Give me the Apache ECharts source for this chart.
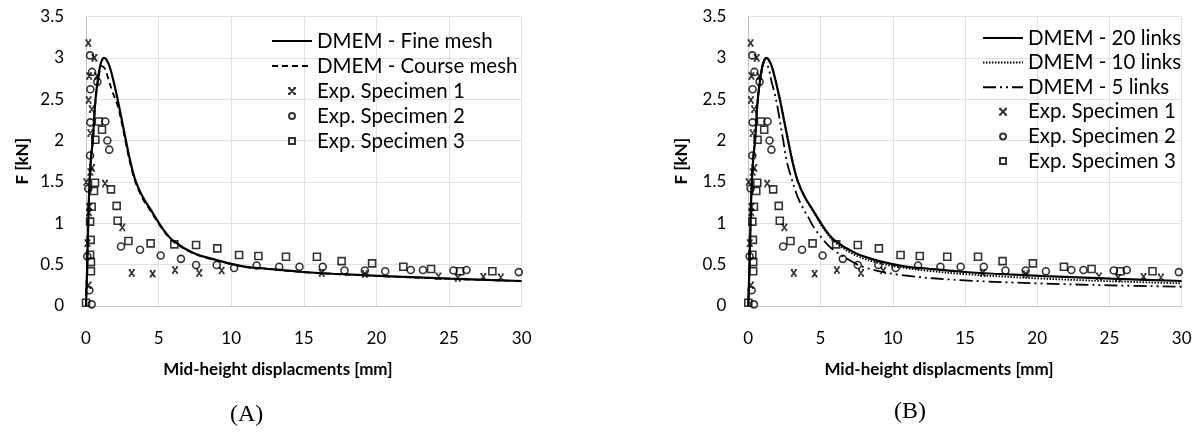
<!DOCTYPE html>
<html>
<head>
<meta charset="utf-8">
<script src="https://cdn.jsdelivr.net/npm/echarts@6/dist/echarts.min.js"></script>
<style>
html,body{margin:0;padding:0;background:#fff;}
#chart{width:1199px;height:435px;}
</style>
</head>
<body>
<div id="chart"></div>
<script>
// ---- data (x: mid-height displacement [mm], y: F [kN]) ----
const xTicks = [0, 5, 10, 15, 20, 25, 30];
const yTicks = [0, 0.5, 1, 1.5, 2, 2.5, 3, 3.5];

const fineMesh = [[0,0],[0.1,0.6],[0.22,1.4],[0.35,1.8],[0.47,2.0],[0.65,2.49],[0.88,2.81],[1.05,2.95],[1.25,3.0],[1.55,2.93],[1.85,2.75],[2.2,2.48],[2.5,2.22],[2.75,2.0],[3.05,1.75],[3.4,1.52],[3.9,1.32],[4.4,1.18],[5.3,0.93],[6.0,0.79],[7.4,0.64],[9,0.555],[10.8,0.48],[12.45,0.45],[14.74,0.414],[17,0.39],[20.5,0.362],[25.1,0.33],[30,0.302]];
const courseMesh = [[0,0],[0.1,0.6],[0.22,1.4],[0.35,1.8],[0.47,2.0],[0.65,2.47],[0.88,2.78],[1.1,2.9],[1.3,2.87],[1.5,2.77],[1.8,2.6],[2.2,2.41],[2.5,2.18],[2.75,1.96],[3.05,1.72],[3.4,1.5],[3.9,1.3],[4.4,1.16],[5.3,0.92],[6.0,0.78],[7.4,0.635],[9,0.55],[10.8,0.478],[12.45,0.448],[14.74,0.412],[17,0.388],[20.5,0.36],[25.1,0.328],[30,0.3]];
const links20 = [[0,0],[0.1,0.6],[0.22,1.4],[0.35,1.8],[0.47,2.0],[0.65,2.49],[0.88,2.81],[1.05,2.95],[1.25,3.0],[1.55,2.93],[1.85,2.75],[2.2,2.48],[2.5,2.22],[2.75,2.0],[3.05,1.75],[3.4,1.52],[3.9,1.32],[4.4,1.18],[5.3,0.93],[6.0,0.79],[7.4,0.64],[9,0.545],[10.8,0.48],[12.45,0.45],[14.74,0.414],[17,0.39],[20.5,0.362],[25.1,0.33],[30,0.302]];
const links10 = [[0,0],[0.1,0.6],[0.22,1.4],[0.35,1.8],[0.47,2.0],[0.65,2.48],[0.88,2.8],[1.05,2.94],[1.25,2.99],[1.55,2.93],[1.85,2.76],[2.2,2.5],[2.5,2.24],[2.75,2.02],[3.05,1.77],[3.4,1.53],[3.9,1.32],[4.4,1.17],[5.3,0.91],[6.0,0.77],[7.4,0.615],[9,0.52],[10.8,0.46],[12.45,0.425],[15,0.385],[20,0.334],[25,0.3],[30,0.274]];
const links5 = [[0,0],[0.1,0.6],[0.22,1.4],[0.35,1.8],[0.47,2.0],[0.65,2.47],[0.88,2.8],[1.1,2.94],[1.35,2.9],[1.6,2.72],[1.85,2.55],[2.05,2.38],[2.26,2.16],[2.42,2.0],[2.66,1.75],[3.0,1.54],[3.23,1.41],[3.46,1.3],[3.92,1.14],[4.2,1.06],[4.5,0.96],[5.19,0.8],[5.6,0.72],[6.0,0.665],[6.69,0.585],[8,0.47],[10.6,0.374],[15,0.31],[20,0.274],[25,0.25],[30,0.233]];

const spec1 = [[0.16,3.18],[0.58,3.0],[0.22,2.78],[0.76,2.78],[0.18,2.49],[0.4,2.38],[0.3,2.09],[0.42,1.67],[0.3,1.62],[0.02,1.5],[0.2,1.13],[0.22,1.2],[0.1,0.76],[0.18,0.25],[1.31,1.48],[2.5,0.95],[3.15,0.40],[4.59,0.39],[6.13,0.435],[7.8,0.40],[9.34,0.43],[16.23,0.40],[19.2,0.386],[24.27,0.36],[25.6,0.34],[27.36,0.354],[28.56,0.346]];
const spec2 = [[0.28,3.03],[0.42,2.83],[0.78,2.71],[0.3,2.62],[0.3,2.22],[1.33,2.23],[1.47,2.0],[1.6,1.89],[0.28,1.82],[0.16,1.42],[0.09,0.6],[0.23,0.19],[0.39,0.02],[2.41,0.72],[3.72,0.68],[5.14,0.61],[6.54,0.57],[7.58,0.495],[9.0,0.495],[10.2,0.46],[11.75,0.49],[13.3,0.475],[14.7,0.475],[16.3,0.475],[17.8,0.43],[19.2,0.43],[20.6,0.42],[22.36,0.435],[23.2,0.435],[25.3,0.43],[26.2,0.435],[29.8,0.41]];
const spec3 = [[0.88,2.23],[1.1,2.13],[0.64,2.01],[0.62,1.49],[1.72,1.41],[0.55,1.39],[2.11,1.21],[0.39,1.2],[2.18,1.03],[0.28,1.02],[2.92,0.785],[0.32,0.80],[0.28,0.62],[0.34,0.53],[0.34,0.42],[0,0.04],[4.45,0.757],[6.08,0.745],[7.58,0.737],[9.04,0.697],[10.54,0.616],[11.87,0.604],[13.77,0.596],[15.9,0.596],[17.6,0.543],[19.7,0.515],[21.85,0.475],[23.76,0.447],[25.76,0.42],[27.98,0.42]];

// ---- styling ----
const FONT = 'Lato';
const XMARK = 'path://M0,0L10,10M10,0L0,10M-1.5,0L3,0M7,0L11.5,0M-1.5,10L3,10M7,10L11.5,10';
const ICON_X = 'path://M0,0M40,14M17,4L23,10M23,4L17,10M16,4L18.5,4M21.5,4L24,4M16,10L18.5,10M21.5,10L24,10';
const ICON_O = 'path://M0,0M40,14M23,7A3,3,0,1,1,17,7A3,3,0,1,1,23,7Z';
const ICON_S = 'path://M0,0M40,14M17,4L23,4L23,10L17,10Z';

function xAxisCfg(idx){
  return {
    gridIndex: idx, type: 'value', min: 0, max: 30, interval: 5,
    name: 'Mid-height displacments [mm]', nameLocation: 'middle', nameGap: 55,
    nameTextStyle: {fontFamily: FONT, fontWeight: 'bold', fontSize: 17, color: '#000', padding: [0, 52, 0, 0]},
    axisLine: {show: true, onZero: false, lineStyle: {color: '#c4c4c4', width: 1}},
    axisTick: {show: false},
    axisLabel: {fontFamily: FONT, fontSize: 17, color: '#000', margin: 24},
    splitLine: {show: true, lineStyle: {color: '#e2e2e2', width: 1}}
  };
}
function yAxisCfg(idx, gap){
  return {
    gridIndex: idx, type: 'value', min: 0, max: 3.5, interval: 0.5,
    name: 'F [kN]', nameLocation: 'middle', nameGap: gap,
    nameTextStyle: {fontFamily: FONT, fontWeight: 'bold', fontSize: 17, color: '#000'},
    axisLine: {show: true, lineStyle: {color: '#c4c4c4', width: 1}},
    axisTick: {show: false},
    axisLabel: {fontFamily: FONT, fontSize: 17, color: '#000', margin: 22},
    splitLine: {show: true, lineStyle: {color: '#e2e2e2', width: 1}}
  };
}
function lineSeries(name, data, idx, lineStyle){
  return {
    name, type: 'line', data, xAxisIndex: idx, yAxisIndex: idx,
    showSymbol: false, symbol: 'none', smooth: 0.35, z: 3,
    lineStyle: Object.assign({color: '#000'}, lineStyle), itemStyle: {color: '#000'}
  };
}
function scatterSeries(name, data, idx, symbol, size){
  return {
    name, type: 'scatter', data, xAxisIndex: idx, yAxisIndex: idx,
    symbol, symbolSize: size, z: 4,
    itemStyle: {color: 'rgba(0,0,0,0)', borderColor: '#000', borderWidth: 1.6}
  };
}
function legendCfg(names, icons, left, top, gapTotal){
  return {
    orient: 'vertical', left, top, itemWidth: 40, itemHeight: 14,
    itemGap: gapTotal - 21, selectedMode: false,
    textStyle: {fontFamily: FONT, fontSize: 20.5, color: '#000', lineHeight: 21},
    data: names.map((n, i) => icons[i] ? {name: n, icon: icons[i]} : {name: n, itemStyle: {opacity: 0}})
  };
}

const chart = echarts.init(document.getElementById('chart'), null, {renderer: 'canvas'});
const option = {
  backgroundColor: '#fff',
  animation: false,
  grid: [
    {left: 86, top: 16.5, width: 435.7, height: 289.5},
    {left: 748.3, top: 16.5, width: 433.4, height: 289.5}
  ],
  xAxis: [xAxisCfg(0), xAxisCfg(1)],
  yAxis: [yAxisCfg(0, 55), yAxisCfg(1, 58)],
  legend: [
    legendCfg(['DMEM - Fine mesh', 'DMEM - Course mesh', 'Exp. Specimen 1', 'Exp. Specimen 2', 'Exp. Specimen 3'],
              [null, null, ICON_X, ICON_O, ICON_S], 266, 25.5, 25),
    legendCfg(['DMEM - 20 links', 'DMEM - 10 links', 'DMEM - 5 links', 'Exp. Specimen 1 ', 'Exp. Specimen 2 ', 'Exp. Specimen 3 '],
              [null, null, null, ICON_X, ICON_O, ICON_S], 977, 22.5, 24.6)
  ],
  series: [
    scatterSeries('Exp. Specimen 1', spec1, 0, XMARK, 6),
    scatterSeries('Exp. Specimen 2', spec2, 0, 'circle', 7),
    scatterSeries('Exp. Specimen 3', spec3, 0, 'rect', 7),
    lineSeries('DMEM - Course mesh', courseMesh, 0, {width: 1.8, type: [6, 4]}),
    lineSeries('DMEM - Fine mesh', fineMesh, 0, {width: 2.2, type: 'solid'}),

    scatterSeries('Exp. Specimen 1 ', spec1, 1, XMARK, 6),
    scatterSeries('Exp. Specimen 2 ', spec2, 1, 'circle', 7),
    scatterSeries('Exp. Specimen 3 ', spec3, 1, 'rect', 7),
    lineSeries('DMEM - 5 links', links5, 1, {width: 1.8, type: [13, 4, 2, 4, 2, 4]}),
    lineSeries('DMEM - 10 links', links10, 1, {width: 1.8, type: [1.5, 1.5]}),
    lineSeries('DMEM - 20 links', links20, 1, {width: 2.2, type: 'solid'})
  ],
  graphic: [
    {type: 'text', left: 230, top: 403, style: {text: '(A)', font: '24px "Liberation Serif"', fill: '#000'}},
    {type: 'text', left: 894, top: 400, style: {text: '(B)', font: '24px "Liberation Serif"', fill: '#000'}}
  ]
};
chart.setOption(option);
</script>
</body>
</html>
